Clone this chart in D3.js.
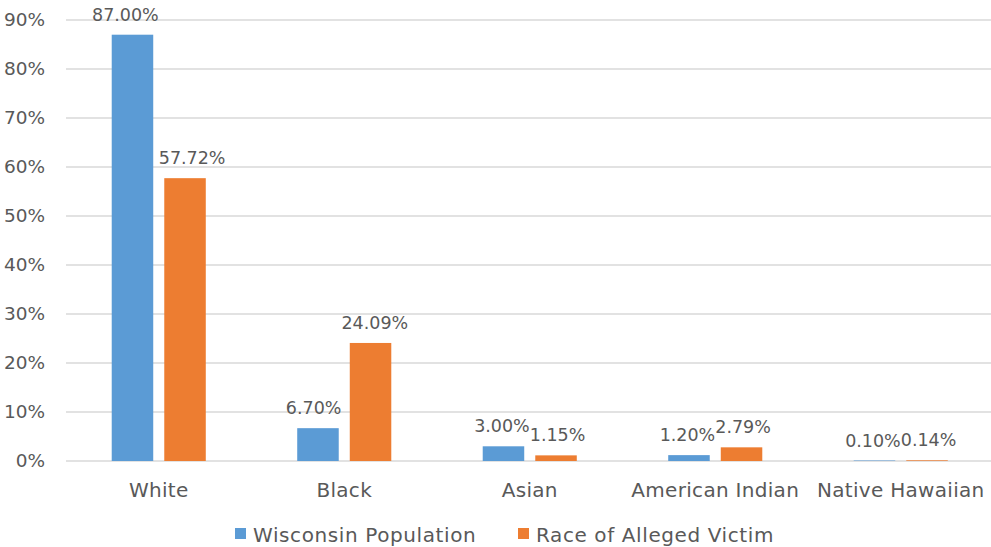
<!DOCTYPE html>
<html>
<head>
<meta charset="utf-8">
<script src="https://cdn.jsdelivr.net/npm/d3@7"></script>
<style>
  html, body { margin: 0; padding: 0; background: #fff; }
  svg { display: block; font-family: "DejaVu Sans", sans-serif; }
  text { fill: #595959; }
</style>
</head>
<body>
<svg id="chart" width="991" height="547"></svg>
<script>
// Race breakdown: Wisconsin population vs. alleged victims
const categories = ["White", "Black", "Asian", "American Indian", "Native Hawaiian"];
const seriesNames = ["Wisconsin Population", "Race of Alleged Victim"];
const wisconsinPopulation = [87.00, 6.70, 3.00, 1.20, 0.10];
const allegedVictim = [57.72, 24.09, 1.15, 2.79, 0.14];
const yTicks = [0, 10, 20, 30, 40, 50, 60, 70, 80, 90];
const colors = ["#5B9BD5", "#ED7D31"];

const seriesValues = [wisconsinPopulation, allegedVictim];
const svg = d3.select("#chart");
const margin = { left: 66, right: -2.5, top: 20, bottom: 86 };
const W = 991, H = 547;

const x0 = d3.scaleBand().domain(categories)
  .range([margin.left, W - margin.right]).paddingInner(0).paddingOuter(0);
const x1 = d3.scaleBand().domain(seriesNames)
  .range([0, x0.bandwidth()]).paddingInner(0.21).paddingOuter(0.87);
const y = d3.scaleLinear().domain([0, 90]).range([H - margin.bottom, margin.top]);

// gridlines
svg.append("g").selectAll("line").data(yTicks).join("line")
  .attr("x1", margin.left).attr("x2", W)
  .attr("y1", d => y(d)).attr("y2", d => y(d))
  .attr("stroke", "#D9D9D9").attr("stroke-width", 1.3);

// y axis labels
const yAxis = d3.axisLeft(y).tickValues(yTicks).tickFormat(d => d + "%").tickSize(0).tickPadding(0);
const gy = svg.append("g").attr("transform", `translate(45,0)`).call(yAxis);
gy.select(".domain").remove();
gy.selectAll("text").attr("font-size", 18.5).attr("fill", "#595959")
  .attr("font-family", "DejaVu Sans, sans-serif");

// bars
const groups = svg.append("g").selectAll("g").data(categories).join("g")
  .attr("transform", d => `translate(${x0(d)},0)`);
groups.selectAll("rect")
  .data((c, i) => seriesNames.map((s, k) => ({ s, k, v: seriesValues[k][i] })))
  .join("rect")
  .attr("x", d => x1(d.s)).attr("width", x1.bandwidth())
  .attr("y", d => y(d.v)).attr("height", d => y(0) - y(d.v))
  .attr("fill", d => colors[d.k]);

// value labels, nudged apart when neighbours collide
const labelLayer = svg.append("g");
categories.forEach((c, i) => {
  const items = seriesNames.map((s, k) => {
    const v = seriesValues[k][i];
    const t = labelLayer.append("text")
      .attr("font-size", 17.5).attr("text-anchor", "middle")
      .attr("y", y(v) - 14)
      .text(v.toFixed(2) + "%");
    const cx = x0(c) + x1(s) + x1.bandwidth() / 2;
    return { t, cx, w: t.node().getComputedTextLength() };
  });
  const [a, b] = items;
  const overlap = (a.cx + a.w / 2) - (b.cx - b.w / 2);
  if (overlap > 0) { a.cx -= overlap / 2; b.cx += overlap / 2; }
  items.forEach(it => it.t.attr("x", it.cx));
});

// category axis
const xAxis = d3.axisBottom(x0).tickSize(0).tickPadding(0);
const gx = svg.append("g").attr("transform", `translate(0,${y(0) + 36})`).call(xAxis);
gx.select(".domain").remove();
gx.selectAll("text").attr("font-size", 20).attr("fill", "#595959")
  .attr("font-family", "DejaVu Sans, sans-serif").attr("dy", 0)
  .attr("letter-spacing", 0.3);

// legend
const legend = svg.append("g").attr("transform", "translate(0,542)");
const legendX = [235, 518];
seriesNames.forEach((s, k) => {
  legend.append("rect").attr("x", legendX[k]).attr("y", -14).attr("width", 11).attr("height", 11)
    .attr("fill", colors[k]);
  legend.append("text").attr("x", legendX[k] + 18).attr("y", 0)
    .attr("font-size", 20).attr("letter-spacing", 0.6).text(s);
});
</script>
</body>
</html>
